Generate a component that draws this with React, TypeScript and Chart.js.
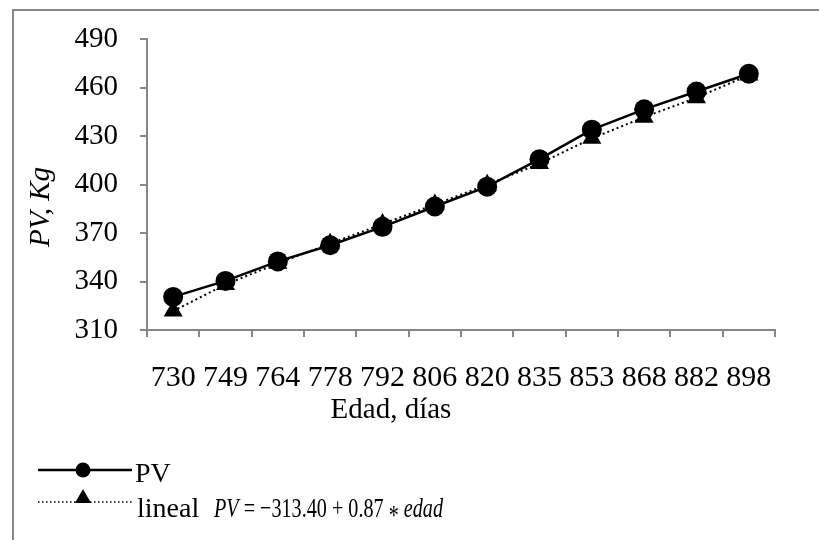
import React, { useEffect, useRef } from 'react';
import { Chart, registerables } from 'chart.js';

Chart.register(...registerables);

const edadLabels = ['730', '749', '764', '778', '792', '806', '820', '835', '853', '868', '882', '898'];
const pvValues = [330.5, 340.4, 352.5, 362.5, 373.9, 386.5, 398.8, 415.8, 434.1, 446.7, 457.7, 468.7];
const linealValues = [321.7, 338.2, 351.3, 363.5, 375.6, 387.8, 400.0, 413.1, 428.7, 441.8, 453.9, 467.9];
const yMin = 310;
const yMax = 490;
const yStep = 30;
const seriesNames = ['PV', 'lineal'];
const yTitle = 'PV, Kg';
const xTitle = 'Edad, días';
const equationParts = [
  { text: 'PV', italic: true, dy: 0 },
  { text: ' = −313.40 + 0.87 ', italic: false, dy: 0 },
  { text: '*', italic: false, dy: 7 },
  { text: ' ', italic: false, dy: 0 },
  { text: 'edad', italic: true, dy: 0 },
];

const SERIF = '"Liberation Serif", "Times New Roman", serif';
const GRAY = '#878787';

export default function App() {
  const ref = useRef<HTMLCanvasElement>(null);

  useEffect(() => {
    if (!ref.current) return;

    const overlay = {
      id: 'overlay',
      beforeDraw(chart: any) {
        const ctx = chart.ctx;
        ctx.save();
        ctx.strokeStyle = GRAY;
        ctx.lineWidth = 2;
        ctx.strokeRect(13, 10, 1000, 1000);
        ctx.restore();
      },
      afterDraw(chart: any) {
        const ctx = chart.ctx;
        ctx.save();
        ctx.fillStyle = '#000';
        // Y title
        ctx.save();
        ctx.font = `italic 29px ${SERIF}`;
        ctx.translate(41, 207);
        ctx.rotate(-Math.PI / 2);
        ctx.textAlign = 'center';
        ctx.textBaseline = 'middle';
        ctx.fillText(yTitle, 0, 0);
        ctx.restore();
        // X title
        ctx.font = `29px ${SERIF}`;
        ctx.textAlign = 'center';
        ctx.textBaseline = 'alphabetic';
        ctx.fillText(xTitle, 391, 418);

        // Legend PV
        ctx.font = `28px ${SERIF}`;
        ctx.strokeStyle = '#000';
        ctx.lineWidth = 2.5;
        ctx.beginPath();
        ctx.moveTo(38, 470);
        ctx.lineTo(132, 470);
        ctx.stroke();
        ctx.beginPath();
        ctx.arc(83, 470, 7.5, 0, Math.PI * 2);
        ctx.fill();
        ctx.textAlign = 'left';
        ctx.fillText(seriesNames[0], 135, 482);

        // Legend lineal
        ctx.lineWidth = 1.5;
        ctx.setLineDash([1.5, 2.5]);
        ctx.beginPath();
        ctx.moveTo(38, 502);
        ctx.lineTo(132, 502);
        ctx.stroke();
        ctx.setLineDash([]);
        ctx.beginPath();
        ctx.moveTo(83, 489);
        ctx.lineTo(91, 503);
        ctx.lineTo(75, 503);
        ctx.closePath();
        ctx.fill();
        ctx.fillText(seriesNames[1], 137, 517);

        // Equation (condensed)
        ctx.save();
        ctx.translate(214, 517);
        ctx.scale(0.72, 1);
        let x = 0;
        for (const p of equationParts) {
          ctx.font = `${p.italic ? 'italic ' : ''}28px ${SERIF}`;
          ctx.fillText(p.text, x, p.dy);
          x += ctx.measureText(p.text).width;
        }
        ctx.restore();
        ctx.restore();
      },
    };

    const chart = new Chart(ref.current, {
      type: 'line',
      data: {
        labels: edadLabels,
        datasets: [
          {
            label: seriesNames[0],
            data: pvValues,
            borderColor: '#000',
            backgroundColor: '#000',
            borderWidth: 2.5,
            pointStyle: 'circle',
            pointRadius: 10,
            pointBackgroundColor: '#000',
            pointBorderColor: '#000',
            pointBorderWidth: 0,
            tension: 0,
            order: 0,
          },
          {
            label: seriesNames[1],
            data: linealValues,
            borderColor: '#000',
            backgroundColor: '#000',
            borderWidth: 2,
            borderDash: [2, 3],
            pointStyle: 'triangle',
            pointRadius: 11,
            pointBackgroundColor: '#000',
            pointBorderColor: '#000',
            pointBorderWidth: 0,
            tension: 0,
            order: 1,
          },
        ],
      },
      options: {
        responsive: false,
        animation: false,
        events: [],
        layout: { padding: { top: 31, right: 44, left: 0, bottom: 0 } },
        plugins: {
          legend: { display: false },
          tooltip: { enabled: false },
          title: { display: false },
        },
        scales: {
          x: {
            type: 'category',
            offset: true,
            afterFit: (scale: any) => {
              scale.height = 210;
            },
            grid: {
              offset: true,
              drawOnChartArea: false,
              drawTicks: true,
              tickLength: 7,
              color: GRAY,
              lineWidth: 2,
            },
            border: { display: true, color: GRAY, width: 2 },
            ticks: {
              color: '#000',
              font: { family: SERIF, size: 30 },
              padding: 23,
              autoSkip: false,
              maxRotation: 0,
              minRotation: 0,
            },
          },
          y: {
            min: yMin,
            max: yMax,
            afterFit: (scale: any) => {
              scale.width = 147;
            },
            grid: {
              drawOnChartArea: false,
              drawTicks: true,
              tickLength: 7,
              color: GRAY,
              lineWidth: 2,
            },
            border: { display: true, color: GRAY, width: 2 },
            ticks: {
              stepSize: yStep,
              color: '#000',
              font: { family: SERIF, size: 29 },
              padding: 22,
            },
          },
        },
      },
      plugins: [overlay],
    });

    return () => chart.destroy();
  }, []);

  return (
    <div style={{ position: 'fixed', left: 0, top: 0, width: 819, height: 540, background: '#fff' }}>
      <canvas ref={ref} width={819} height={540} style={{ display: 'block' }} />
    </div>
  );
}
